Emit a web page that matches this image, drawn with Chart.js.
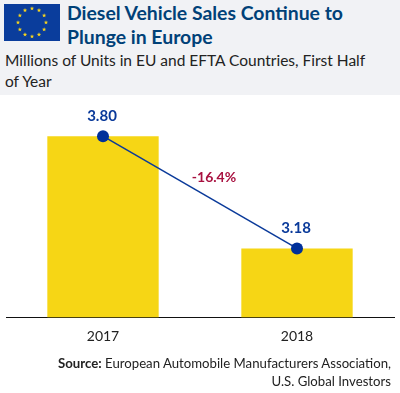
<!DOCTYPE html>
<html>
<head>
<meta charset="utf-8">
<title>Diesel Vehicle Sales</title>
<script src="https://cdn.jsdelivr.net/npm/chart.js@4"></script>
<style>
  html, body { margin: 0; padding: 0; background: #fff; }
  #wrap { position: relative; width: 400px; height: 393px; overflow: hidden; font-family: Lato, sans-serif; }
  #head { position: absolute; left: 0; top: 0; width: 400px; height: 95px; background: #f1f2f5; }
  #flag { position: absolute; left: 4px; top: 4px; }
  #title { position: absolute; left: 67px; top: 1px; font-size: 19.4px; line-height: 23.5px; font-weight: 700; color: #004178; white-space: nowrap; }
  #sub { position: absolute; left: 5px; top: 50px; font-size: 15.5px; line-height: 21px; color: #222; white-space: nowrap; }
  #source { position: absolute; right: 9px; top: 354px; text-align: right; font-size: 13.2px; line-height: 18px; color: #222; white-space: nowrap; }
  canvas { position: absolute; left: 0; top: 0; }
</style>
</head>
<body>
<div id="wrap">
  <div id="head"></div>
  <svg id="flag" width="56" height="37" viewBox="0 0 56 37"></svg>
  <div id="title">Diesel Vehicle Sales Continue to<br>Plunge in Europe</div>
  <div id="sub">Millions of Units in EU and EFTA Countries, First Half<br>of Year</div>
  <canvas id="chart" width="400" height="393"></canvas>
  <div id="source"><b>Source:</b> European Automobile Manufacturers Association,<br>U.S. Global Investors</div>
</div>
<script>
const years = ["2017", "2018"];
const sales = [3.80, 3.18];
const saleLabels = ["3.80", "3.18"];
const changeLabel = "-16.4%";

// eu flag stars
const flag = document.getElementById('flag');
let flagHtml = '<rect width="56" height="37" fill="#0a3d9c"/>';
for (let i = 0; i < 12; i++) {
  const a = i * Math.PI / 6;
  const cx = 28 + 14 * Math.sin(a);
  const cy = 18.5 - 14 * Math.cos(a);
  let pts = [];
  for (let k = 0; k < 10; k++) {
    const r = k % 2 ? 0.95 : 2.3;
    const b = k * Math.PI / 5;
    pts.push((cx + r * Math.sin(b)).toFixed(2) + ',' + (cy - r * Math.cos(b)).toFixed(2));
  }
  flagHtml += '<polygon fill="#f7d51d" points="' + pts.join(' ') + '"/>';
}
flag.innerHTML = flagHtml;

// value labels and the change label
const labelPlugin = {
  id: 'labelPlugin',
  afterDatasetsDraw(chart) {
    const ctx = chart.ctx;
    const pts = chart.getDatasetMeta(1).data;
    ctx.save();
    ctx.textAlign = 'center';
    ctx.textBaseline = 'middle';
    ctx.font = '700 15px Lato, sans-serif';
    ctx.fillStyle = '#0a3a9a';
    pts.forEach((p, i) => ctx.fillText(saleLabels[i], p.x - 1, p.y - 20));
    ctx.font = '700 14px Lato, sans-serif';
    ctx.fillStyle = '#a8103f';
    ctx.fillText(changeLabel, (pts[0].x + pts[1].x) / 2 + 14, (pts[0].y + pts[1].y) / 2 - 15);
    ctx.restore();
  }
};

new Chart(document.getElementById('chart'), {
  data: {
    labels: years,
    datasets: [
      {
        type: 'line',
        data: sales,
        order: 0,
        borderColor: '#0a3a9a',
        borderWidth: 1.5,
        tension: 0,
        pointRadius: 6,
        pointBackgroundColor: '#00309a',
        pointBorderWidth: 0
      },
      {
        type: 'bar',
        data: sales,
        order: 1,
        backgroundColor: '#f6d615',
        barPercentage: 0.574,
        categoryPercentage: 1
      }
    ]
  },
  options: {
    responsive: false,
    animation: false,
    events: [],
    layout: { padding: { left: 4, right: 5, top: 100, bottom: 37 } },
    plugins: { legend: { display: false }, tooltip: { enabled: false } },
    scales: {
      x: {
        grid: { display: false, drawTicks: false },
        border: { color: '#111', width: 1 },
        ticks: { color: '#222', font: { family: 'Lato, sans-serif', size: 14 }, padding: 11, maxRotation: 0 }
      },
      y: { display: false, min: 2.8, max: 4.0 }
    }
  },
  plugins: [labelPlugin]
});
</script>
</body>
</html>
